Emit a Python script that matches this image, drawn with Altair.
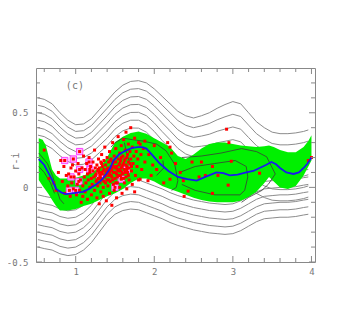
import altair as alt
import pandas as pd

# ---------------- axes / ticks ----------------
X_DOMAIN = [0.495, 4.045]
Y_DOMAIN = [-0.5, 0.8]
X_LABEL_VALUES = [1, 2, 3, 4]
X_LABELS = ["1", "2", "3", "4"]
Y_LABEL_VALUES = [-0.5, 0, 0.5]
Y_LABELS = ["-0.5", "0", "0.5"]
X_MINOR = [0.6, 0.8, 1.2, 1.4, 1.6, 1.8, 2.2, 2.4, 2.6, 2.8, 3.2, 3.4, 3.6, 3.8]
Y_MINOR = [-0.4, -0.3, -0.2, -0.1, 0.1, 0.2, 0.3, 0.4, 0.6, 0.7]
Y_TITLE = "r-i"
PANEL_TAG = "(c)"
PANEL_TAG_POS = (0.99, 0.677)

# ---------------- gray model contours ----------------
CONTOUR_X = [0.52, 0.6, 0.7, 0.8, 0.9, 1.0, 1.1, 1.2, 1.3, 1.4, 1.5, 1.6, 1.7, 1.8,
             1.9, 2.0, 2.1, 2.2, 2.3, 2.4, 2.5, 2.6, 2.7, 2.8, 2.9, 3.0, 3.1, 3.2,
             3.3, 3.4, 3.5, 3.6, 3.7, 3.8, 3.9, 3.96]
UPPER_TOP = [0.60, 0.59, 0.56, 0.50, 0.45, 0.42, 0.425, 0.46, 0.52, 0.58, 0.64, 0.685,
             0.71, 0.715, 0.70, 0.66, 0.61, 0.56, 0.51, 0.48, 0.465, 0.48, 0.50, 0.53,
             0.555, 0.575, 0.56, 0.50, 0.44, 0.40, 0.37, 0.36, 0.36, 0.365, 0.375, 0.385]
UPPER_SPACING = [0.05, 0.05, 0.05, 0.048, 0.046, 0.045, 0.045, 0.046, 0.048, 0.05, 0.05,
                 0.051, 0.052, 0.053, 0.055, 0.057, 0.059, 0.06, 0.062, 0.064, 0.065,
                 0.068, 0.072, 0.077, 0.082, 0.085, 0.085, 0.083, 0.08, 0.078, 0.076,
                 0.075, 0.075, 0.075, 0.075, 0.075]
UPPER_LEVELS = [0, 1, 2, 3, 4, 5, 6]
LOWER_BOTTOM = [-0.40, -0.41, -0.42, -0.445, -0.457, -0.45, -0.42, -0.37, -0.30, -0.23,
                -0.18, -0.155, -0.145, -0.15, -0.17, -0.19, -0.21, -0.235, -0.255, -0.27,
                -0.285, -0.295, -0.305, -0.31, -0.315, -0.31, -0.29, -0.26, -0.23, -0.21,
                -0.205, -0.20, -0.20, -0.195, -0.185, -0.18]
LOWER_SPACING = 0.05
LOWER_LEVELS = [0, 1, 2, 3, 4, 5, 6, 7]

# ---------------- green band ----------------
BAND_X = [0.53, 0.58, 0.62, 0.66, 0.70, 0.75, 0.80, 0.90, 1.00, 1.10, 1.20, 1.30, 1.40,
          1.45, 1.50, 1.60, 1.70, 1.80, 1.90, 2.00, 2.10, 2.20, 2.30, 2.40, 2.50, 2.60,
          2.70, 2.80, 2.90, 3.00, 3.10, 3.20, 3.30, 3.40, 3.46, 3.52, 3.60, 3.70, 3.80,
          3.90, 3.96, 4.00]
BAND_HI = [0.33, 0.32, 0.28, 0.20, 0.12, 0.08, 0.06, 0.06, 0.065, 0.08, 0.10, 0.13, 0.20,
           0.25, 0.30, 0.34, 0.365, 0.375, 0.36, 0.33, 0.30, 0.27, 0.21, 0.19, 0.22, 0.26,
           0.29, 0.30, 0.30, 0.29, 0.28, 0.275, 0.27, 0.275, 0.28, 0.27, 0.25, 0.235,
           0.235, 0.27, 0.31, 0.35]
BAND_LO = [0.05, 0.01, -0.02, -0.05, -0.085, -0.125, -0.155, -0.155, -0.145, -0.125,
           -0.11, -0.085, -0.06, -0.05, -0.04, -0.01, 0.03, 0.06, 0.06, 0.04, 0.01, -0.01,
           -0.03, -0.05, -0.07, -0.085, -0.095, -0.10, -0.10, -0.10, -0.09, -0.065, -0.03,
           0.03, 0.07, 0.04, 0.0, -0.01, 0.01, 0.08, 0.14, 0.18]

# ---------------- blue mean line ----------------
MEAN_X = [0.53, 0.6, 0.7, 0.75, 0.82, 0.88, 0.95, 1.02, 1.09, 1.17, 1.26, 1.33, 1.39,
          1.44, 1.48, 1.55, 1.65, 1.72, 1.79, 1.85, 1.90, 1.97, 2.07, 2.18, 2.30, 2.42,
          2.54, 2.65, 2.79, 2.88, 2.96, 3.06, 3.17, 3.26, 3.34, 3.42, 3.49, 3.55, 3.60,
          3.68, 3.77, 3.84, 3.90, 3.95, 4.0]
MEAN_Y = [0.19, 0.15, 0.05, -0.01, -0.035, -0.045, -0.04, -0.035, -0.03, -0.01, 0.02,
          0.05, 0.09, 0.13, 0.18, 0.22, 0.25, 0.265, 0.27, 0.27, 0.26, 0.22, 0.16, 0.11,
          0.07, 0.055, 0.045, 0.07, 0.10, 0.095, 0.08, 0.085, 0.10, 0.11, 0.13, 0.15, 0.17,
          0.155, 0.13, 0.10, 0.09, 0.10, 0.13, 0.16, 0.20]

# ---------------- dark data contours ----------------
DARK_1 = [(0.53, 0.23), (0.64, 0.16), (0.71, 0.07), (0.75, 0.0), (0.80, -0.08), (0.85, -0.11)]
DARK_2 = [(0.53, 0.14), (0.60, 0.10), (0.68, 0.03), (0.73, -0.04)]
DARK_3 = [(1.45, 0.27), (1.50, 0.30), (1.60, 0.33), (1.72, 0.32), (1.86, 0.31), (2.03, 0.29),
          (2.15, 0.245), (2.26, 0.155), (2.30, 0.045), (2.28, 0.0), (2.22, -0.02)]
DARK_4 = [(1.62, 0.30), (1.65, 0.22), (1.70, 0.15)]
DARK_5 = [(2.32, 0.10), (2.52, 0.14), (2.77, 0.16), (3.03, 0.18), (3.17, 0.14), (3.19, 0.07),
          (3.15, -0.02), (3.09, -0.05), (2.77, -0.05), (2.52, -0.02), (2.35, 0.02)]
DARK_6 = [(2.35, 0.20), (2.60, 0.21), (2.85, 0.23), (3.11, 0.26), (3.30, 0.24), (3.43, 0.205),
          (3.54, 0.09), (3.45, 0.02), (3.37, -0.02), (3.20, -0.067), (3.11, -0.10)]
DARK_7 = [(2.11, 0.18), (2.12, 0.13), (2.03, 0.08)]

# ---------------- galaxies ----------------
RED_LEFT = [(0.60, 0.25), (0.66, 0.06), (0.72, 0.03), (0.75, -0.02), (0.78, 0.10), (0.81, 0.18),
            (0.83, 0.04), (0.85, 0.14), (0.86, -0.04), (0.88, 0.08), (0.90, 0.01), (0.91, 0.09),
            (0.93, -0.06), (0.94, 0.13), (0.95, 0.03), (0.96, 0.15), (0.97, -0.01), (0.98, 0.07),
            (1.00, 0.11), (1.01, -0.05), (1.02, 0.02), (1.03, 0.16), (1.04, 0.09), (1.05, -0.02),
            (1.06, 0.05), (1.07, -0.10), (1.08, 0.13), (1.09, 0.01), (1.09, -0.06), (1.10, 0.21)]
RED_MID1 = [(1.11, 0.07), (1.12, 0.12), (1.12, -0.03), (1.13, 0.03), (1.14, 0.16), (1.15, 0.09),
            (1.15, -0.08), (1.16, 0.05), (1.17, 0.20), (1.18, 0.00), (1.18, 0.10), (1.19, 0.14),
            (1.20, 0.06), (1.20, -0.05), (1.21, 0.02), (1.22, 0.11), (1.22, 0.17), (1.23, 0.07),
            (1.24, -0.02), (1.24, 0.25), (1.25, 0.13), (1.26, 0.04), (1.26, 0.09), (1.27, 0.15),
            (1.27, -0.07), (1.28, 0.01), (1.28, 0.11), (1.29, 0.19), (1.29, 0.06), (1.30, -0.11),
            (1.30, 0.13), (1.31, 0.03), (1.31, 0.08), (1.32, 0.17), (1.32, -0.03), (1.33, 0.10),
            (1.33, 0.22), (1.34, 0.05), (1.34, 0.14), (1.35, -0.06), (1.35, 0.00), (1.36, 0.12),
            (1.36, 0.18), (1.37, 0.07), (1.37, 0.27), (1.38, 0.03), (1.38, 0.15), (1.39, -0.09),
            (1.39, 0.10), (1.40, 0.20), (1.40, 0.05)]
RED_MID2 = [(1.41, 0.13), (1.41, 0.01), (1.42, 0.17), (1.42, 0.08), (1.43, -0.04), (1.43, 0.24),
            (1.44, 0.11), (1.44, 0.04), (1.45, 0.19), (1.45, 0.14), (1.46, -0.12), (1.46, 0.07),
            (1.47, 0.30), (1.47, 0.16), (1.48, 0.02), (1.48, 0.10), (1.49, 0.21), (1.49, -0.02),
            (1.50, 0.13), (1.50, 0.06), (1.51, 0.26), (1.51, 0.17), (1.52, 0.09), (1.52, -0.07),
            (1.53, 0.12), (1.53, 0.03), (1.54, 0.19), (1.54, 0.34), (1.55, 0.08), (1.55, 0.15),
            (1.56, 0.23), (1.56, 0.00), (1.57, 0.11), (1.57, 0.18), (1.58, 0.06), (1.58, 0.28),
            (1.59, 0.14), (1.59, -0.04), (1.60, 0.21), (1.60, 0.09), (1.61, 0.16), (1.61, 0.32),
            (1.62, 0.03), (1.62, 0.12), (1.63, 0.25), (1.63, 0.19), (1.64, 0.07), (1.64, 0.37),
            (1.65, 0.14), (1.65, -0.01), (1.66, 0.22), (1.66, 0.10), (1.67, 0.29), (1.67, 0.17),
            (1.68, 0.05), (1.68, 0.13), (1.69, 0.24), (1.70, 0.19), (1.70, 0.40)]
RED_CORE = [(1.30, 0.10), (1.32, 0.06), (1.34, 0.09), (1.36, 0.04), (1.38, 0.08), (1.40, 0.12),
            (1.42, 0.05), (1.43, 0.10), (1.45, 0.08), (1.46, 0.12), (1.47, 0.05), (1.48, 0.14),
            (1.50, 0.10), (1.51, 0.03), (1.52, 0.14), (1.53, 0.07), (1.54, 0.11), (1.55, 0.12),
            (1.56, 0.16), (1.57, 0.08), (1.58, 0.13), (1.59, 0.10), (1.60, 0.15), (1.61, 0.06),
            (1.62, 0.18), (1.63, 0.10), (1.64, 0.15), (1.66, 0.13), (1.67, 0.08), (1.69, 0.16),
            (1.25, 0.08), (1.27, 0.05), (1.29, 0.12), (1.33, 0.16), (1.35, 0.11), (1.44, 0.18),
            (1.49, 0.17), (1.58, 0.20), (1.65, 0.20), (1.71, 0.14)]
RED_MID3 = [(1.71, 0.11), (1.72, 0.27), (1.72, 0.02), (1.73, 0.16), (1.74, 0.21), (1.75, -0.03),
            (1.75, 0.33), (1.76, 0.08), (1.77, 0.24), (1.78, 0.14), (1.79, 0.19), (1.80, 0.30),
            (1.80, 0.05), (1.82, 0.29), (1.82, 0.055), (1.83, 0.22), (1.84, 0.12), (1.86, 0.26),
            (1.88, 0.31), (1.88, 0.17), (1.92, 0.045), (1.93, 0.22), (1.96, 0.08), (1.98, 0.15),
            (2.00, 0.28), (2.03, 0.12), (2.08, 0.20), (2.12, 0.03), (2.17, 0.30), (2.20, 0.27),
            (2.20, 0.055), (2.22, 0.23), (2.27, 0.16), (2.33, 0.10)]
RED_RIGHT = [(2.37, 0.045), (2.38, -0.06), (2.43, -0.025), (2.48, 0.17), (2.57, 0.07),
             (2.60, 0.17), (2.65, 0.08), (2.74, 0.14), (2.74, -0.04), (2.81, 0.08),
             (2.92, 0.39), (2.95, 0.30), (2.94, 0.015), (2.98, 0.175), (3.34, 0.095),
             (3.96, 0.18), (4.00, 0.20)]
MAGENTA = [(0.86, 0.18), (0.94, 0.07), (0.92, -0.02), (0.97, 0.19), (1.00, -0.02), (1.04, 0.04),
           (1.05, 0.24), (1.05, 0.12), (1.17, 0.17), (1.18, 0.12), (1.31, 0.08), (1.50, 0.00),
           (1.58, 0.055), (1.65, 0.12)]

# ---------------- build tables ----------------
W, H = 279, 194
FONT = "DejaVu Sans Mono"
TXT = "#777777"

gray_rows = []
for k in UPPER_LEVELS:
    for i, x in enumerate(CONTOUR_X):
        gray_rows.append({"x": x, "y": UPPER_TOP[i] - k * UPPER_SPACING[i], "c": f"u{k}"})
for k in LOWER_LEVELS:
    for i, x in enumerate(CONTOUR_X):
        gray_rows.append({"x": x, "y": LOWER_BOTTOM[i] + k * LOWER_SPACING, "c": f"l{k}"})
gray_df = pd.DataFrame(gray_rows)

band_df = pd.DataFrame({"x": BAND_X, "y": BAND_LO, "y2": BAND_HI})
mean_df = pd.DataFrame({"x": MEAN_X, "y": MEAN_Y})

dark_rows = []
for ci, cont in enumerate([DARK_1, DARK_2, DARK_3, DARK_4, DARK_5, DARK_6, DARK_7]):
    for i, (x, y) in enumerate(cont):
        dark_rows.append({"x": x, "y": y, "c": ci, "i": i})
dark_df = pd.DataFrame(dark_rows)

red_pts = RED_LEFT + RED_MID1 + RED_MID2 + RED_CORE + RED_MID3 + RED_RIGHT + MAGENTA
red_df = pd.DataFrame(red_pts, columns=["x", "y"])
mag_df = pd.DataFrame(MAGENTA, columns=["x", "y"])

xs = alt.Scale(domain=X_DOMAIN, nice=False, zero=False)
ys = alt.Scale(domain=Y_DOMAIN, nice=False, zero=False)


def label_expr(values, labels):
    expr = "''"
    for v, l in zip(values, labels):
        expr = f"abs(datum.value - ({v})) < 1e-6 ? '{l}' : ({expr})"
    return expr


x_axis = alt.Axis(values=X_LABEL_VALUES, labelExpr=label_expr(X_LABEL_VALUES, X_LABELS),
                  title=None, ticks=False, domain=False, grid=False, labelFont=FONT,
                  labelFontSize=9, labelColor=TXT, labelPadding=5)
y_axis = alt.Axis(values=Y_LABEL_VALUES, labelExpr=label_expr(Y_LABEL_VALUES, Y_LABELS),
                  title=Y_TITLE, titleFont=FONT, titleFontSize=10, titleColor=TXT,
                  titleFontWeight="normal", titleAngle=270, titleX=-21, titleY=93,
                  titleAlign="center", titleBaseline="middle",
                  ticks=False, domain=False, grid=False, labelFont=FONT,
                  labelFontSize=9, labelColor=TXT, labelPadding=8)

XE = alt.X("x:Q", scale=xs, axis=x_axis, title=None)
YE = alt.Y("y:Q", scale=ys, axis=y_axis, title=Y_TITLE)

gray = alt.Chart(gray_df).mark_line(color="#8c8c8c", strokeWidth=1, clip=True).encode(
    x=XE, y=YE, detail="c:N",
)

band = alt.Chart(band_df).mark_area(color="#00f000", opacity=1, clip=True).encode(
    x=XE, y=YE, y2="y2:Q",
)

dark = alt.Chart(dark_df).mark_line(color="#3a3a3a", strokeWidth=0.8, clip=True).encode(
    x=XE, y=YE, detail="c:N", order="i:Q",
)

mag = alt.Chart(mag_df).mark_square(size=40, fill="#ffb0ff", stroke="#ff40ff",
                                     strokeWidth=1, opacity=1, clip=True).encode(
    x=XE, y=YE,
)

red = alt.Chart(red_df).mark_square(size=9, color="#ff0000", opacity=1, clip=True).encode(
    x=XE, y=YE,
)

mean = alt.Chart(mean_df).mark_line(color="#1a1aee", strokeWidth=1.8, clip=True).encode(
    x=XE, y=YE,
)

tag = alt.Chart(pd.DataFrame({"x": [PANEL_TAG_POS[0]], "y": [PANEL_TAG_POS[1]],
                              "t": [PANEL_TAG]})).mark_text(
    font=FONT, fontSize=10, color=TXT).encode(
    x=XE, y=YE, text="t:N",
)

TICK_COLOR = "#888888"
xmaj = pd.DataFrame({"x": X_LABEL_VALUES})
xmin = pd.DataFrame({"x": X_MINOR})
ymaj = pd.DataFrame({"y": Y_LABEL_VALUES})
ymin = pd.DataFrame({"y": Y_MINOR})


def xticks(df, length):
    base = alt.Chart(df).mark_rule(color=TICK_COLOR, strokeWidth=1)
    bottom = base.encode(x=XE, y=alt.value(H), y2=alt.value(H - length))
    top = base.encode(x=XE, y=alt.value(0), y2=alt.value(length))
    return [bottom, top]


def yticks(df, length):
    base = alt.Chart(df).mark_rule(color=TICK_COLOR, strokeWidth=1)
    left = base.encode(y=YE, x=alt.value(0), x2=alt.value(length))
    right = base.encode(y=YE, x=alt.value(W), x2=alt.value(W - length))
    return [left, right]


ticks = xticks(xmaj, 6) + xticks(xmin, 4) + yticks(ymaj, 6) + yticks(ymin, 4)

chart = alt.layer(gray, band, dark, mag, red, mean, tag, *ticks).properties(
    width=W, height=H,
    padding={"left": 28, "top": 60, "right": 30, "bottom": 40},
    autosize=alt.AutoSizeParams(type="none"),
    background="white",
).configure_view(stroke="#888888", strokeWidth=1)

chart.save("out.html", embed_options={"renderer": "svg", "actions": False})
